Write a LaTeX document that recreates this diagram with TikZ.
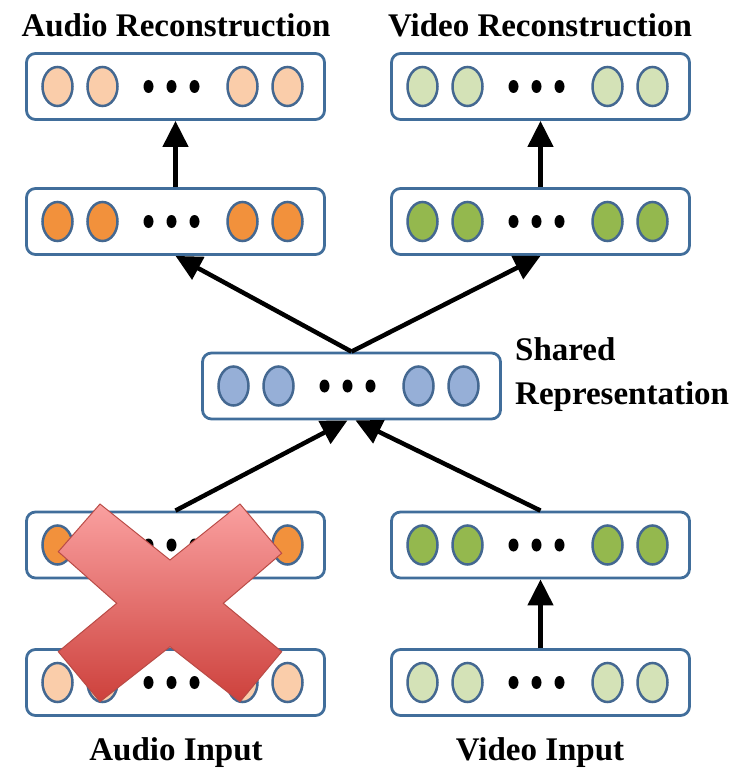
\documentclass[tikz,border=0pt]{standalone}
\usepackage{fontspec}
\setmainfont{Liberation Serif}
\usetikzlibrary{
    arrows.meta,
    calc,
    positioning
}
\definecolor{boxblue}{RGB}{65,110,155}
\definecolor{unitedge}{RGB}{68,104,145}
\definecolor{lightorange}{RGB}{250,205,170}
\definecolor{darkorange}{RGB}{242,145,60}
\definecolor{lightgreen}{RGB}{212,226,183}
\definecolor{darkgreen}{RGB}{148,184,78}
\definecolor{unitblue}{RGB}{150,175,215}
\definecolor{crosstop}{RGB}{250,160,160}
\definecolor{crossbottom}{RGB}{205,65,60}
\definecolor{crossedge}{RGB}{185,75,70}
\tikzset{
    every picture/.style = {
        > = {Triangle[length = 26pt, width = 25pt]},
        x = 1pt,
        y = -1pt
    },
    layer/.style = {
        draw = boxblue,
        line width = 2.8pt,
        rounded corners = 9pt,
        minimum width = 298pt,
        minimum height = 66pt,
        inner sep = 0pt,
        fill = white
    },
    unit/.style = {
        draw = unitedge,
        line width = 2.5pt
    },
    link/.style = {
        ->,
        line width = 4.5pt
    },
    caption/.style = {
        font = \bfseries\fontsize{33}{40}\selectfont,
        inner sep = 0pt
    },
    cross/.style = {
        top color = crosstop,
        bottom color = crossbottom,
        draw = crossedge,
        line width = 1pt
    }
}
% one layer: box, four units and the dots
\newcommand{\layer}[4]{%
    \node[layer] (#1) at (#2, #3) {};
    \foreach \dx in {-118, -73, 67, 112}
        \filldraw[unit, fill = #4] ($(#1) + (\dx, 0)$) ellipse [x radius = 15, y radius = 19.5];
    \foreach \dx in {-27, -4, 19}
        \fill ($(#1) + (\dx, 0)$) ellipse [x radius = 5, y radius = 6.5];
}

\begin{document}
\begin{tikzpicture}

    \useasboundingbox (0, 0) rectangle (730, 770);

    \layer{arec}{175.5}{86.5}{lightorange}
    \layer{vrec}{540.5}{86.5}{lightgreen}
    \layer{ahid}{175.5}{221.5}{darkorange}
    \layer{vhid}{540.5}{221.5}{darkgreen}
    \layer{shared}{351.5}{386}{unitblue}
    \layer{ahin}{175.5}{545}{darkorange}
    \layer{vhin}{540.5}{545}{darkgreen}
    \layer{ain}{175.5}{682.5}{lightorange}
    \layer{vin}{540.5}{682.5}{lightgreen}

    \node[caption, anchor = base] (atitle) at (176, 37) {Audio Reconstruction};
    \node[caption, anchor = base] (vtitle) at (540, 37) {Video Reconstruction};
    \node[caption, anchor = base west] (stitle) at (515, 360) {Shared};
    \node[caption, anchor = base west] (rtitle) at (515, 404) {Representation};
    \node[caption, anchor = base] (ainput) at (176, 760) {Audio Input};
    \node[caption, anchor = base] (vinput) at (540, 760) {Video Input};

    \draw[link] (ahid.north) -- (arec.south);
    \draw[link] (vhid.north) -- (vrec.south);
    \draw[link] (shared.north) -- (ahid.south);
    \draw[link] (shared.north) -- (vhid.south);
    \draw[link] (ahin.north) -- ([xshift = -4pt]shared.south);
    \draw[link] (vhin.north) -- ([xshift = 4pt]shared.south);
    \draw[link] (vin.north) -- (vhin.south);

    % the red cross over the audio input
    \path[cross] (100, 504) -- (170, 560) -- (240, 504) -- (281.7, 553.3) -- (223.3, 603.3) -- (281.7, 651.7) -- (240, 701.7) -- (170, 646.7) -- (100, 701.7) -- (58.3, 651.7) -- (116.7, 603.3) -- (58.3, 551.7) -- cycle;

\end{tikzpicture}
\end{document}
